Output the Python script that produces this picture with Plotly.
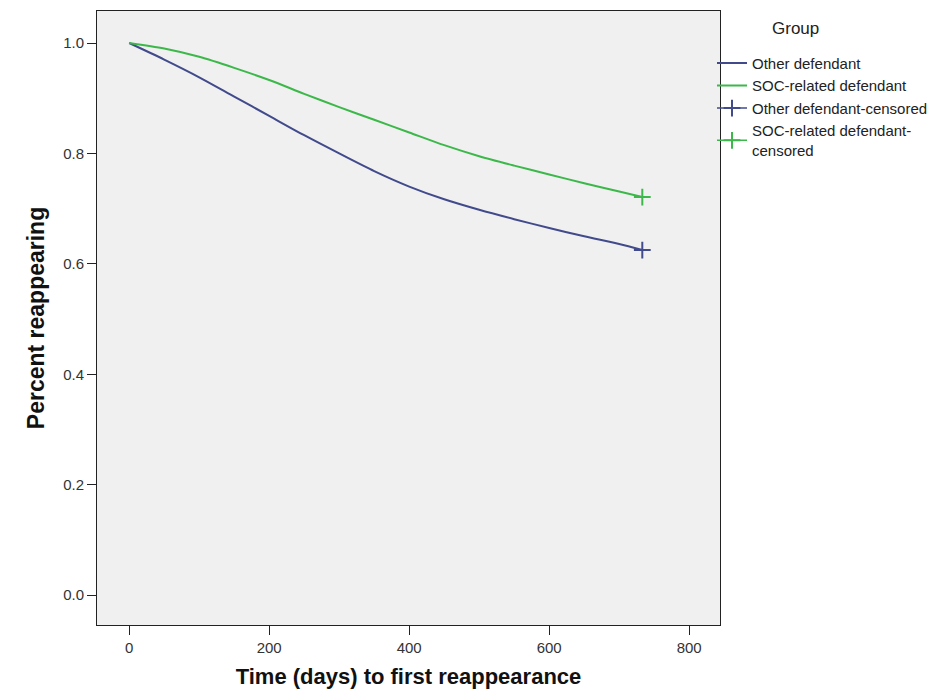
import plotly.graph_objects as go

# Kaplan-Meier style curves
other_days = [0, 50, 100, 150, 200, 250, 300, 350, 400, 450, 500, 550, 600, 650, 700, 733]
other_surv = [1.0, 0.970, 0.938, 0.903, 0.868, 0.833, 0.800, 0.768, 0.740, 0.717, 0.698, 0.681, 0.665, 0.650, 0.636, 0.625]

soc_days = [0, 50, 100, 150, 200, 250, 300, 350, 400, 450, 500, 550, 600, 650, 700, 733]
soc_surv = [1.0, 0.990, 0.975, 0.955, 0.933, 0.908, 0.884, 0.861, 0.838, 0.815, 0.795, 0.778, 0.762, 0.746, 0.731, 0.721]

other_cens_day = [733]
other_cens_surv = [0.625]
soc_cens_day = [733]
soc_cens_surv = [0.721]

x_ticks = [0, 200, 400, 600, 800]
y_ticks = [0.0, 0.2, 0.4, 0.6, 0.8, 1.0]
y_tick_labels = ["0.0", "0.2", "0.4", "0.6", "0.8", "1.0"]

BLUE = "#414b8c"
GREEN = "#3cb84a"
FONT = "Liberation Sans, Arial, sans-serif"

fig = go.Figure()
fig.add_trace(go.Scatter(x=other_days, y=other_surv, mode="lines", name="Other defendant",
                         line=dict(color=BLUE, width=2, shape="spline", smoothing=0.8)))
fig.add_trace(go.Scatter(x=soc_days, y=soc_surv, mode="lines", name="SOC-related defendant",
                         line=dict(color=GREEN, width=2, shape="spline", smoothing=0.8)))
fig.add_trace(go.Scatter(x=other_cens_day, y=other_cens_surv, mode="lines+markers",
                         name="Other defendant-censored",
                         line=dict(color=BLUE, width=1.5),
                         marker=dict(symbol="cross-thin", size=12, line=dict(color=BLUE, width=2))))
fig.add_trace(go.Scatter(x=soc_cens_day, y=soc_cens_surv, mode="lines+markers",
                         name="SOC-related defendant-<br>censored",
                         line=dict(color=GREEN, width=1.5),
                         marker=dict(symbol="cross-thin", size=12, line=dict(color=GREEN, width=2))))

# figure sized to the window minus the 8px page margin
W, H = 934, 681
L, T, R, B = 89, 2, 222, 62
pw, ph = W - L - R, H - T - B

fig.update_layout(
    width=W, height=H,
    margin=dict(l=L, r=R, t=T, b=B),
    paper_bgcolor="white",
    plot_bgcolor="#f0f0f0",
    font=dict(family=FONT, size=15, color="#222"),
    showlegend=True,
    legend=dict(x=(704 - L) / pw, xanchor="left", y=1 - (38 - T) / ph, yanchor="top",
                bgcolor="rgba(0,0,0,0)", font=dict(size=15, color="#222"),
                itemwidth=30, tracegroupgap=0),
    xaxis=dict(range=[-46, 844], tickvals=x_ticks, ticks="outside", ticklen=9,
               tickcolor="#222", showgrid=False, zeroline=False,
               showline=True, linecolor="#222", linewidth=1, mirror=True,
               tickfont=dict(size=15, color="#333"),
               title=dict(text="<b>Time (days) to first reappearance</b>",
                          font=dict(size=22, color="#111"), standoff=16)),
    yaxis=dict(range=[-0.054, 1.058], tickvals=y_ticks, ticktext=y_tick_labels,
               ticks="outside", ticklen=9, tickcolor="#222", showgrid=False, zeroline=False,
               showline=True, linecolor="#222", linewidth=1, mirror=True,
               tickfont=dict(size=15, color="#333"),
               title=dict(text="<b>Percent reappearing</b>",
                          font=dict(size=23, color="#111"), standoff=12)),
    annotations=[dict(text="Group", x=(787 - L) / pw, y=1 - (20 - T) / ph,
                      xref="paper", yref="paper", xanchor="center", yanchor="middle",
                      showarrow=False, font=dict(size=17, color="#222"))],
)

fig.write_html("out.html")
